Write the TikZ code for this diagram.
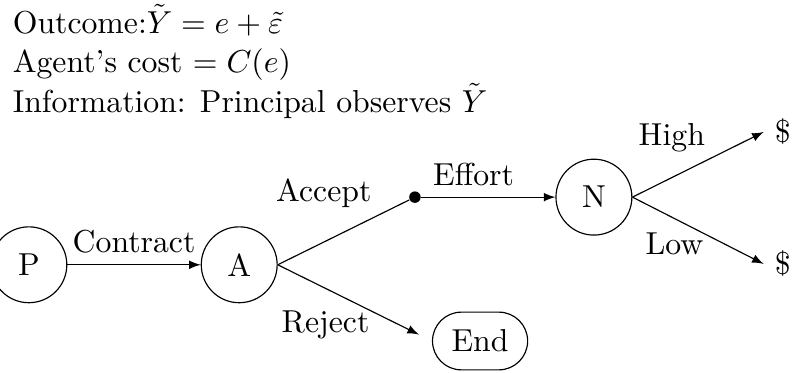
\documentclass[tikz,border=0pt,11pt]{standalone}
\usepackage{tikz}
\usetikzlibrary{arrows, positioning, shapes.misc}

\begin{document}
\begin{tikzpicture}
    % Define node styles
    \tikzstyle{player}=[circle, draw, minimum size=0.92cm, inner sep=0pt]
    \tikzstyle{dot}=[circle, fill, inner sep=1.4pt]
    \tikzstyle{terminal}=[rounded rectangle, draw, minimum width=1.41cm, minimum height=0.7cm]

    \useasboundingbox (0,0) rectangle (9.65,4.51);

    % Model description
    \node[anchor=base west, align=left] at (0.02,3.15) (info) {Outcome:$\tilde{Y} = e + \tilde{\varepsilon}$\\ Agent's cost $= C(e)$\\ Information: Principal observes $\tilde{Y}$};

    % Players and moves
    \node[player] at (0.35,1.30) (p) {P};
    \node[player] at (2.90,1.30) (a) {A};
    \node[dot] at (5.03,2.12) (d) {};
    \node[player] at (7.20,2.12) (n) {N};
    \node[terminal] at (5.82,0.376) (end) {End};
    \node at (9.49,2.91) (high) {\$};
    \node at (9.49,1.31) (low) {\$};

    % Branches
    \draw[-latex] (p) -- node[above] {Contract} (a);
    \draw (a.east) -- node[pos=.35, above=8pt] {Accept} (d);
    \draw[-latex, shorten >=5pt] (a.east) -- node[pos=.31, below=4pt] {Reject} (end.west);
    \draw[-latex] (d) -- node[pos=.39, above] {Effort} (n);
    \draw[-latex] (n.east) -- node[pos=.3, above=5pt] {High} (high.west);
    \draw[-latex] (n.east) -- node[pos=.32, below=1pt] {Low} (low.west);

\end{tikzpicture}
\end{document}
